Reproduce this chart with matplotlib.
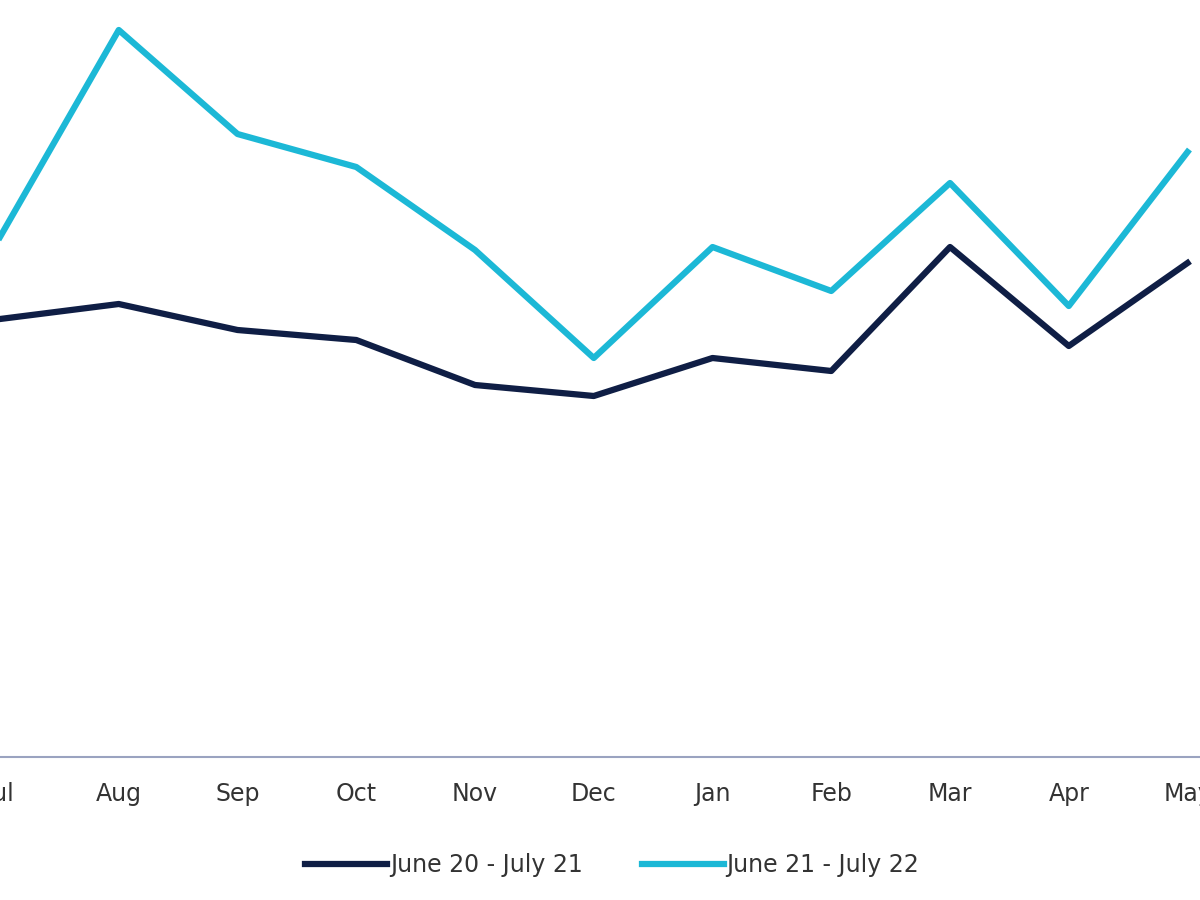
import matplotlib.pyplot as plt

months = ['Jul', 'Aug', 'Sep', 'Oct', 'Nov', 'Dec', 'Jan', 'Feb', 'Mar', 'Apr', 'May']
# values (arbitrary units, axis bottom = 0)
june20_july21 = [43.8, 45.3, 42.7, 41.7, 37.2, 36.1, 39.9, 38.6, 51.0, 41.1, 49.4]
june21_july22 = [52.0, 72.7, 62.3, 59.0, 50.7, 39.9, 51.0, 46.6, 57.4, 45.1, 60.5]

fig = plt.figure(figsize=(12, 9), dpi=100)
ax = fig.add_axes([0, 1 - 757 / 900, 1, 757 / 900])

x = list(range(len(months)))
ax.plot(x, june20_july21, color='#0f1e45', linewidth=4.5, label='June 20 - July 21')
ax.plot(x, june21_july22, color='#1cb8d6', linewidth=4.5, label='June 21 - July 22')

ax.set_xlim(0.105, 10.105)
ax.set_ylim(0, 75.7)
ax.set_xticks(x)
ax.set_xticklabels(months, fontsize=17, color='#333333')
ax.set_yticks([])
for s in ['top', 'right', 'left']:
    ax.spines[s].set_visible(False)
ax.spines['bottom'].set_color('#9aa3c0')
ax.spines['bottom'].set_linewidth(1.5)
ax.tick_params(axis='x', length=0, pad=18)

fig.legend(loc='center', bbox_to_anchor=(0.51, 1 - 865 / 900), ncol=2, frameon=False,
           fontsize=17, handlelength=3.5, handletextpad=0.1, columnspacing=2.5,
           labelcolor='#333333')

fig.savefig('out.png')
